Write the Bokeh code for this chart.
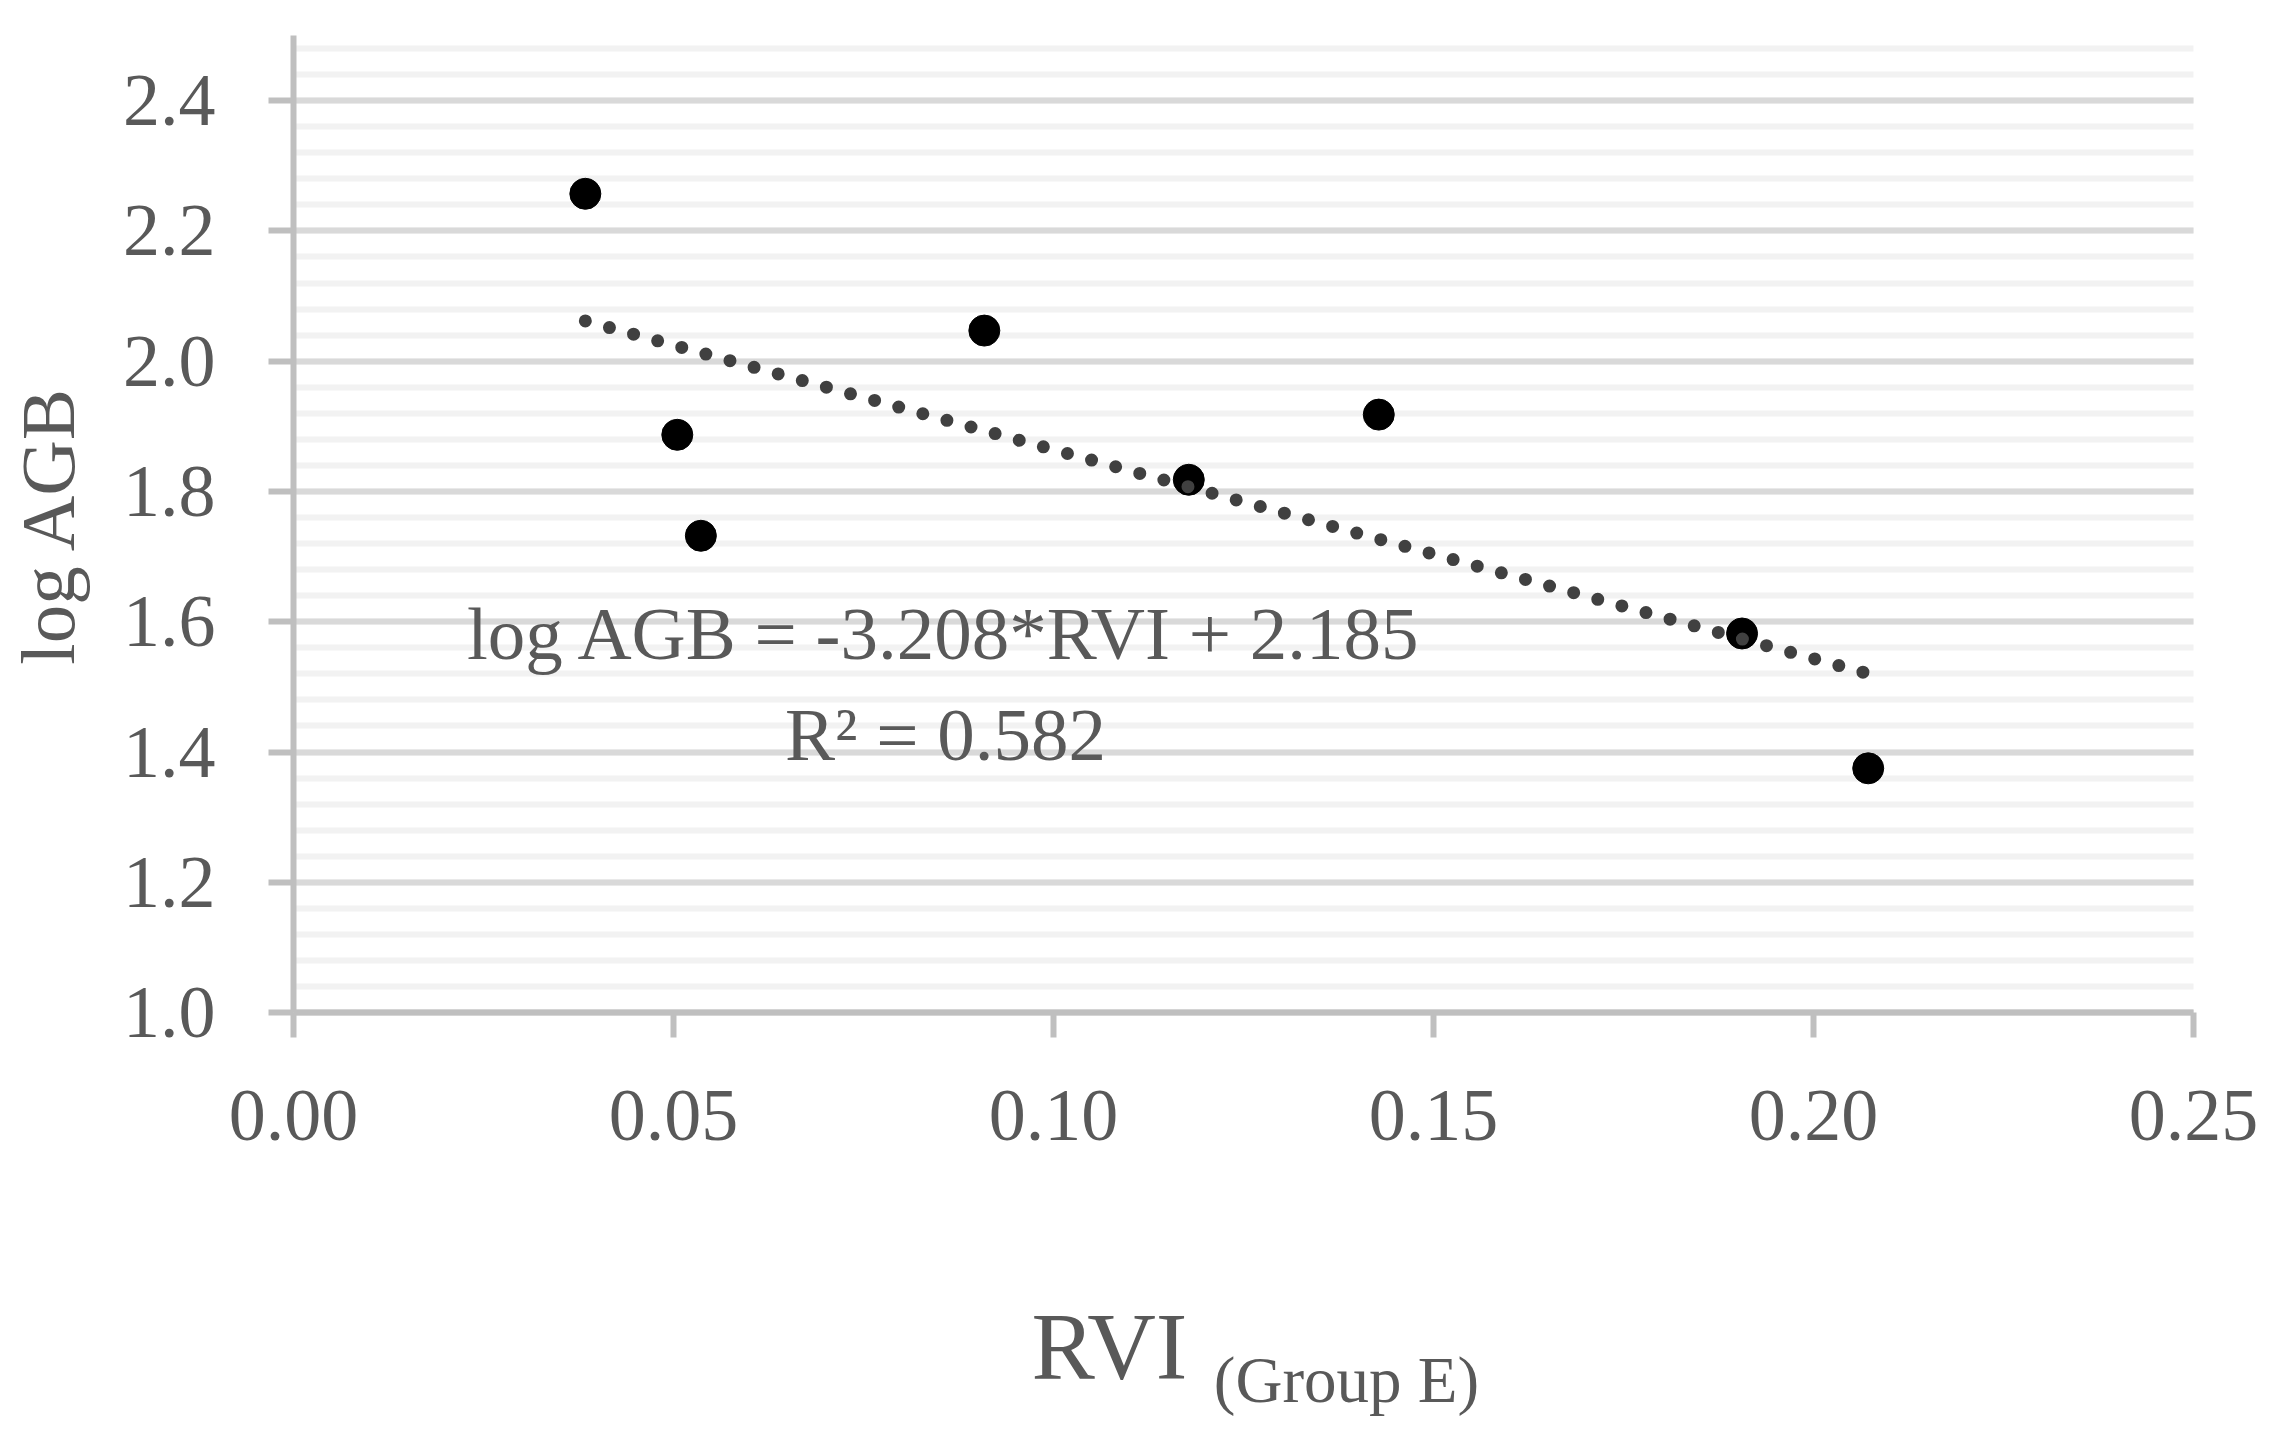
import math
from bokeh.plotting import figure
from bokeh.models import Label, SingleIntervalTicker, FixedTicker, NumeralTickFormatter, Range1d
from bokeh.embed import file_html
from bokeh.resources import INLINE

# data
rvi = [0.0384, 0.0505, 0.0536, 0.0909, 0.1178, 0.1428, 0.1906, 0.2072]
log_agb = [2.257, 1.887, 1.732, 2.047, 1.818, 1.918, 1.582, 1.375]
slope = -3.208
intercept = 2.185
eq_text = "log AGB = -3.208*RVI + 2.185"
r2_text = "R\u00b2 = 0.582"
x_ticks = [0.0, 0.05, 0.10, 0.15, 0.20, 0.25]
x_bounds = (0.0, 0.25)
y_bounds = (1.0, 2.5)

FONT = "Liberation Serif"
TXT = "#595959"

# canvas geometry (pixels): plot area 0..0.25 spans x 293..2193, 1.0..2.5 spans y 1012..35
W, H = 2266, 1425
X0_PX, X_PX_PER_UNIT = 293, 7600.0
Y_TOP_PX, Y_PX_PER_UNIT = 35, 651.4
x_start = -X0_PX / X_PX_PER_UNIT
x_end = (W - X0_PX) / X_PX_PER_UNIT
y_end = 2.5 + Y_TOP_PX / Y_PX_PER_UNIT
y_start = 2.5 - (H - Y_TOP_PX) / Y_PX_PER_UNIT

p = figure(width=W, height=H, output_backend="svg", toolbar_location=None,
           x_range=Range1d(x_start, x_end), y_range=Range1d(y_start, y_end),
           min_border_left=0, min_border_right=0, min_border_top=0, min_border_bottom=0)
p.outline_line_color = None
p.background_fill_color = "white"
p.border_fill_color = "white"

# axes (fixed inside the canvas so that the titles are not clipped)
p.xaxis.fixed_location = 1.0
p.xaxis.bounds = x_bounds
p.xaxis.ticker = FixedTicker(ticks=x_ticks)
p.xaxis.formatter = NumeralTickFormatter(format="0.00")
p.yaxis.fixed_location = 0.0
p.yaxis.bounds = y_bounds
p.yaxis.ticker = SingleIntervalTicker(interval=0.2, num_minor_ticks=5)
p.yaxis.formatter = NumeralTickFormatter(format="0.0")
for ax in (p.xaxis, p.yaxis):
    ax.axis_line_color = "#bfbfbf"
    ax.axis_line_width = 6
    ax.major_tick_line_color = "#bfbfbf"
    ax.major_tick_line_width = 6
    ax.major_tick_out = 25
    ax.major_tick_in = 0
    ax.minor_tick_out = 0
    ax.minor_tick_in = 0
    ax.major_label_text_font = FONT
    ax.major_label_text_font_size = "74px"
    ax.major_label_text_color = TXT
p.xaxis.major_label_standoff = 53
p.yaxis.major_label_standoff = 53

p.xgrid.visible = False
p.ygrid.grid_line_color = "#d9d9d9"
p.ygrid.grid_line_width = 6
p.ygrid.minor_grid_line_color = "#f2f2f2"
p.ygrid.minor_grid_line_width = 6
p.ygrid.bounds = y_bounds
p.ygrid.cross_bounds = x_bounds

# points
p.scatter(rvi, log_agb, size=31, color="black", line_color="black")

# trend line (dotted)
tx = [min(rvi), max(rvi)]
ty = [slope * v + intercept for v in tx]
p.line(tx, ty, line_color="#404040", line_width=13, line_dash="0 25", line_cap="round")

# equation text
p.add_layout(Label(x=0.0857, y=1.582, text=eq_text, text_align="center", text_baseline="alphabetic",
                   text_font=FONT, text_font_size="75px", text_color=TXT))
p.add_layout(Label(x=0.0858, y=1.427, text=r2_text, text_align="center", text_baseline="alphabetic",
                   text_font=FONT, text_font_size="75px", text_color=TXT))

# x axis title with subscript
p.add_layout(Label(x=0.0971, y=0.487, text="RVI", text_align="left", text_baseline="alphabetic",
                   text_font=FONT, text_font_size="95px", text_color=TXT))
p.add_layout(Label(x=0.1211, y=0.4366, text="(Group E)", text_align="left", text_baseline="alphabetic",
                   text_font=FONT, text_font_size="65px", text_color=TXT))

# y axis title
p.add_layout(Label(x=-0.03224, y=1.7491, text="log AGB", angle=math.pi / 2, text_align="center",
                   text_baseline="alphabetic", text_font=FONT, text_font_size="77px", text_color=TXT))

open("out.html", "w").write(file_html(p, INLINE))
